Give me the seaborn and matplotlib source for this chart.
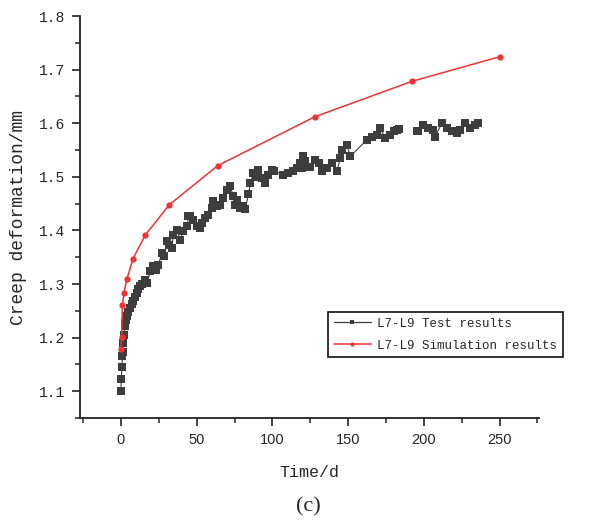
import numpy as np
import pandas as pd
import matplotlib
matplotlib.use('Agg')
import matplotlib.pyplot as plt
import seaborn as sns
from matplotlib.lines import Line2D
from matplotlib.ticker import MultipleLocator, FormatStrFormatter

# ==================== 数据 ====================
# L7-L9 试验结果
t_test = [0, 0.3, 0.6, 1.0, 1.3, 1.6, 2.0, 2.5, 3.0, 3.5, 4.2, 5.0, 6.1, 7.0, 8.3,
          9.3, 10.5, 11.5, 12.7, 14, 16, 17.5, 19.3, 21.5, 23, 24.8, 27, 28.5, 30.4,
          32, 33.6, 34.7, 37, 39, 41.3, 43.6, 44.6, 45.7, 47.9, 50.2, 52, 53.5, 55.6,
          57.8, 60, 61.1, 63.4, 65.5, 67.7, 70, 72.1, 74.3, 75.4, 76.6, 78.7, 80.5,
          82, 84.2, 85.5, 87.5, 89, 90.8, 93, 95.2, 97.4, 99.6, 101, 107.3, 110.6,
          113.9, 116.2, 118.3, 119.5, 120.5, 121.7, 125, 128.3, 130.5, 132.7, 136,
          139.3, 142.6, 144.8, 145.9, 149.2, 151.4, 162.4, 165.7, 169, 171.2, 174.5,
          177.8, 180, 182.2, 183.8, 195.4, 196.4, 199.7, 203, 206.3, 207.4, 211.9,
          215.2, 218.5, 221.8, 224, 227.3, 230.6, 233.9, 236]
y_test = [1.100, 1.122, 1.146, 1.165, 1.174, 1.190, 1.205, 1.222, 1.228, 1.232, 1.240,
          1.247, 1.255, 1.262, 1.268, 1.275, 1.283, 1.290, 1.296, 1.300, 1.308, 1.302,
          1.324, 1.333, 1.326, 1.336, 1.358, 1.352, 1.380, 1.372, 1.368, 1.392, 1.401,
          1.383, 1.398, 1.408, 1.426, 1.426, 1.420, 1.408, 1.404, 1.414, 1.423, 1.429,
          1.442, 1.454, 1.445, 1.448, 1.460, 1.476, 1.482, 1.464, 1.448, 1.457, 1.442,
          1.445, 1.439, 1.467, 1.488, 1.507, 1.500, 1.513, 1.498, 1.488, 1.504, 1.513,
          1.510, 1.504, 1.507, 1.510, 1.516, 1.526, 1.516, 1.538, 1.530, 1.519, 1.532,
          1.525, 1.510, 1.516, 1.526, 1.510, 1.535, 1.550, 1.560, 1.538, 1.569, 1.575,
          1.578, 1.591, 1.572, 1.578, 1.585, 1.588, 1.590, 1.586, 1.585, 1.597, 1.591,
          1.588, 1.575, 1.600, 1.591, 1.585, 1.582, 1.588, 1.600, 1.591, 1.597, 1.600]
gap_day = 190  # 数据在此处断开

# L7-L9 模拟结果
t_sim = [0, 0.5, 1, 2, 4, 8, 16, 32, 64, 128, 192, 250]
y_sim = [1.179, 1.201, 1.261, 1.283, 1.310, 1.347, 1.391, 1.448, 1.521, 1.612, 1.678, 1.724]

labels = ['L7-L9 Test results', 'L7-L9 Simulation results']
x_ticks = [0, 50, 100, 150, 200, 250]
y_ticks = [1.1, 1.2, 1.3, 1.4, 1.5, 1.6, 1.7, 1.8]

# ==================== 绘图 ====================
sns.set_style('ticks')
plt.rcParams['font.family'] = ['Liberation Mono', 'DejaVu Sans Mono']

df_test = pd.DataFrame({'t': t_test, 'y': y_test})
df_test['seg'] = (df_test['t'] > gap_day).astype(int)

fig = plt.figure(figsize=(6.1, 5.25), dpi=100)
ax = fig.add_axes([80 / 610, 1 - 418 / 525, (539 - 80) / 610, (418 - 16) / 525])

c_test = '#3d3d3d'
c_sim = '#f03232'

sns.lineplot(data=df_test, x='t', y='y', units='seg', estimator=None, sort=False,
             color=c_test, lw=0.8, marker='s', markersize=5.8, markeredgewidth=0,
             ax=ax, legend=False)
sns.lineplot(x=t_sim, y=y_sim, estimator=None, sort=False, color=c_sim, lw=1.1,
             marker='o', markersize=4.5, markeredgewidth=0, ax=ax, legend=False)

ax.set_xlim(-27, 276)
ax.set_ylim(1.05, 1.8)
ax.set_xticks(x_ticks)
ax.set_yticks(y_ticks)
ax.xaxis.set_minor_locator(MultipleLocator(25))
ax.yaxis.set_minor_locator(MultipleLocator(0.05))
ax.yaxis.set_major_formatter(FormatStrFormatter('%.1f'))

sns.despine(ax=ax)
for s in ['left', 'bottom']:
    ax.spines[s].set_linewidth(1.3)
    ax.spines[s].set_color('#222222')
ax.tick_params(which='major', direction='out', length=6, width=1.2, color='#222222')
ax.tick_params(which='minor', direction='out', length=3.5, width=1.1, color='#222222')
ax.tick_params(axis='y', labelsize=10.5, pad=5)
ax.tick_params(axis='x', pad=5)
for lab in ax.get_xticklabels():
    lab.set_family('Liberation Sans')
    lab.set_fontsize(10.5)

ax.set_xlabel('Time/d', fontsize=12, labelpad=13)
ax.set_ylabel('Creep deformation/mm', fontsize=13, labelpad=8)

handles = [Line2D([], [], color=c_test, lw=0.9, marker='s', markersize=2.5, mew=0),
           Line2D([], [], color=c_sim, lw=1.1, marker='o', markersize=3, mew=0)]
leg = fig.legend(handles, labels, loc='upper left', bbox_to_anchor=(328 / 610, 1 - 312 / 525),
                 borderaxespad=0, fancybox=False, framealpha=1, edgecolor='#111111',
                 fontsize=9, handlelength=3.0, handletextpad=0.5, labelspacing=0.8,
                 borderpad=0.45)
leg.get_frame().set_linewidth(1.2)

fig.text(308 / 610, 1 - 507 / 525, '(c)', ha='center', va='center', fontsize=16,
         family='Liberation Serif')

fig.savefig('out.png', dpi=100)
